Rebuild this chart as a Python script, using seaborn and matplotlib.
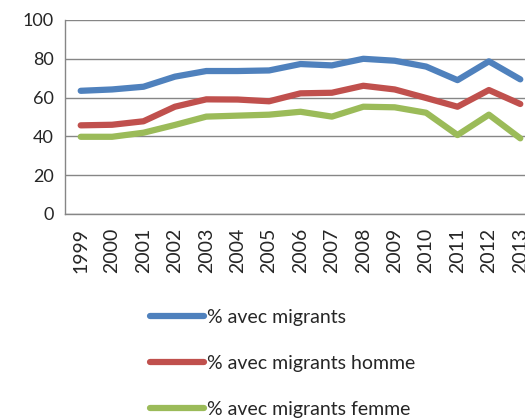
import pandas as pd
import matplotlib.pyplot as plt
import seaborn as sns

# Data
years = [str(y) for y in range(1999, 2014)]
avec_migrants = [63.5, 64.2, 65.6, 70.8, 73.7, 73.7, 74.0, 77.3, 76.6, 80.0, 79.0, 76.0, 69.0, 78.7, 69.4]
avec_migrants_homme = [45.7, 46.0, 47.8, 55.3, 59.1, 59.0, 58.1, 62.2, 62.5, 66.1, 64.2, 59.8, 55.3, 63.9, 56.7]
avec_migrants_femme = [39.8, 39.8, 41.9, 45.9, 50.2, 50.7, 51.2, 52.7, 50.2, 55.3, 55.0, 52.2, 40.7, 51.2, 39.0]

series_names = ['% avec migrants', '% avec migrants homme', '% avec migrants femme']
colors = ['#4F81BD', '#C0504D', '#9BBB59']

df = pd.DataFrame({
    'year': years * 3,
    'value': avec_migrants + avec_migrants_homme + avec_migrants_femme,
    'series': [s for s in series_names for _ in years],
})
df['x'] = df['year'].map({y: i for i, y in enumerate(years)})

sns.set_style('white')
plt.rcParams['font.family'] = ['Lato', 'DejaVu Sans']

fig = plt.figure(figsize=(5.25, 4.19), dpi=100)
# axes runs past the right edge, as in the cropped original
ax = fig.add_axes([65 / 525, 1 - 214 / 419, 471 / 525, 194 / 419])

sns.lineplot(data=df, x='x', y='value', hue='series', hue_order=series_names,
             palette=colors, linewidth=4.5, ax=ax, legend=True,
             solid_capstyle='round')

ax.set_xlim(-0.5, len(years) - 0.5)
ax.set_ylim(0, 100)
ax.set_yticks(range(0, 101, 20))
ax.set_xticks(range(len(years)))
ax.set_xticklabels(years, rotation=90)
ax.set_xticks([i - 0.5 for i in range(len(years) + 1)], minor=True)
ax.tick_params(axis='x', which='major', length=0, pad=10, labelsize=14)
ax.tick_params(axis='x', which='minor', length=5, width=1, color='#868686', direction='out')
ax.tick_params(axis='y', length=5, width=1, color='#868686', direction='out', labelsize=13, pad=3)
ax.grid(axis='y', color='#868686', linewidth=1)
ax.set_axisbelow(True)
ax.set_xlabel('')
ax.set_ylabel('')
for side in ['top', 'right']:
    ax.spines[side].set_visible(False)
for side in ['left', 'bottom']:
    ax.spines[side].set_color('#868686')
    ax.spines[side].set_linewidth(1)

handles, labels = ax.get_legend_handles_labels()
ax.legend_.remove()
leg = fig.legend(handles, labels, loc='upper left', bbox_to_anchor=(132 / 525, 1 - 291 / 419),
                 frameon=False, fontsize=14, handlelength=2.8, handletextpad=0.15,
                 labelspacing=1.5)

fig.savefig('out.png', dpi=100)
